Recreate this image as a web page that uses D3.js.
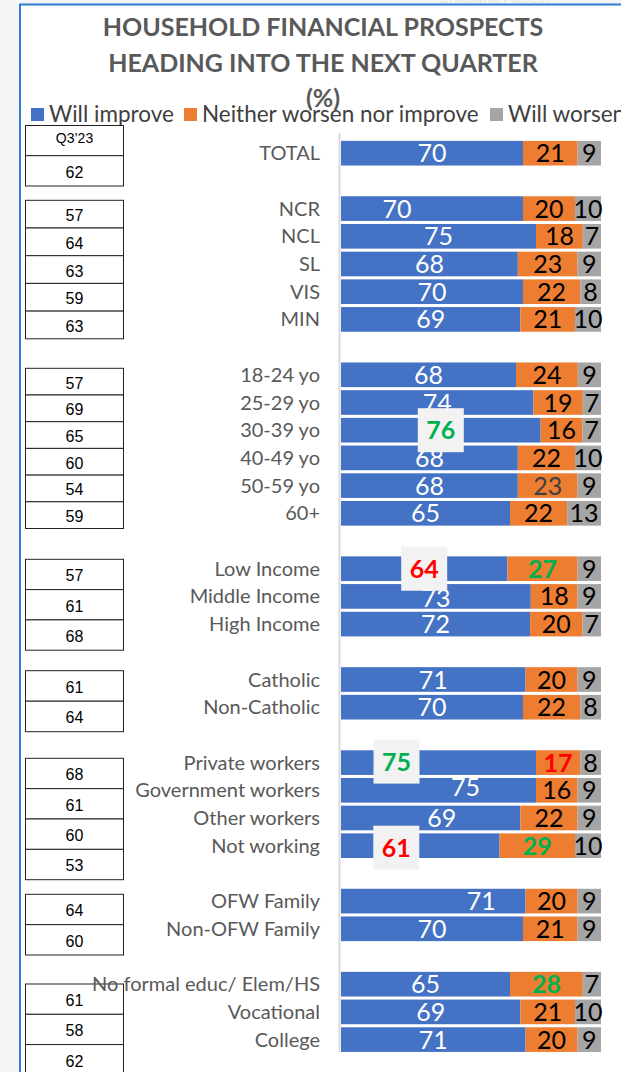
<!DOCTYPE html>
<meta charset="utf-8">
<script src="https://d3js.org/d3.v7.min.js"></script>
<style>
  body { margin: 0; background: #fff; }
  svg { display: block; }
</style>
<div id="viz"></div>
<script>

// ---- data ----
var categories = ["TOTAL",
  "NCR", "NCL", "SL", "VIS", "MIN",
  "18-24 yo", "25-29 yo", "30-39 yo", "40-49 yo", "50-59 yo", "60+",
  "Low Income", "Middle Income", "High Income",
  "Catholic", "Non-Catholic",
  "Private workers", "Government workers", "Other workers", "Not working",
  "OFW Family", "Non-OFW Family",
  "No formal educ/ Elem/HS", "Vocational", "College"];
var groupSizes = [1, 5, 6, 3, 2, 4, 2, 3];
var willImprove = [70, 70, 75, 68, 70, 69, 68, 74, 76, 68, 68, 65, 64, 73, 72, 71, 70, 75, 75, 69, 61, 71, 70, 65, 69, 71];
var neither     = [21, 20, 18, 23, 22, 21, 24, 19, 16, 22, 23, 22, 27, 18, 20, 20, 22, 17, 16, 22, 29, 20, 21, 28, 21, 20];
var willWorsen  = [9, 10, 7, 9, 8, 10, 9, 7, 7, 10, 9, 13, 9, 9, 7, 9, 8, 8, 9, 9, 10, 9, 9, 7, 10, 9];
var q3Values    = [62, 57, 64, 63, 59, 63, 57, 69, 65, 60, 54, 59, 57, 61, 68, 61, 64, 68, 61, 60, 53, 64, 60, 61, 58, 62];
var seriesNames = ["Will improve", "Neither worsen nor improve", "Will worsen"];
var q3Header = "Q3\u201923";

// ---- styling ----
var colors = ["#4472c4", "#ed7d31", "#a5a5a5"];
var green = "#00b050", red = "#ff0000";
var boxed = {"30-39 yo": green, "Low Income": red, "Private workers": green, "Not working": red};
var midColored = {"Low Income": green, "Private workers": red, "Not working": green, "No formal educ/ Elem/HS": green, "50-59 yo": "#404040"};
var nudge = {"NCR": [-35, 0], "Government workers": [27, -3], "Other workers": [11, 0],
  "OFW Family": [48, 0], "Private workers": [-42, -1], "Not working": [-24, 2], "Middle Income": [0, 2]};
var font = "Lato, 'Open Sans', sans-serif";

var width = 621, height = 1072;

var svg = d3.select("#viz").append("svg")
  .attr("width", width)
  .attr("height", height);

// faint page background + frame
svg.append("rect").attr("width", width).attr("height", height).attr("fill", "#f4f5f7");
svg.append("text").attr("x", 440).attr("y", 3).attr("font-family", font).attr("font-size", 16)
  .attr("fill", "#ebe6da").text("Enabling Access");
svg.append("rect").attr("x", 20).attr("y", 4).attr("width", width - 20).attr("height", height).attr("fill", "#fff");
svg.append("path").attr("d", "M20,1072V4.5H621").attr("fill", "none").attr("stroke", "#2e7bd6").attr("stroke-width", 2);

// title
var titleLines = ["HOUSEHOLD FINANCIAL PROSPECTS", "HEADING INTO THE NEXT QUARTER", "(%)"];
svg.append("g").selectAll("text")
  .data(titleLines)
  .join("text")
    .attr("x", 323)
    .attr("y", (d, i) => 36 + i * 35.5)
    .attr("text-anchor", "middle")
    .attr("font-family", font)
    .attr("font-weight", "bold")
    .attr("font-size", 25)
    .attr("fill", "#595959")
    .text(d => d);

// legend
var legendX = [31, 184, 490];
var legend = svg.append("g").selectAll("g")
  .data(seriesNames)
  .join("g")
    .attr("transform", (d, i) => "translate(" + legendX[i] + ",108)");
legend.append("rect").attr("width", 13).attr("height", 13).attr("fill", (d, i) => colors[i]);
legend.append("text")
  .attr("x", 18).attr("y", 13.5)
  .attr("font-family", font).attr("font-size", 22.5)
  .attr("fill", "#404040")
  .text(d => d);

// rows with a blank slot between groups
var rows = [];
var slot = 0, k = 0;
groupSizes.forEach(function (n) {
  for (var j = 0; j < n; j++) {
    var s = willImprove[k] + neither[k] + willWorsen[k];
    rows.push({
      name: categories[k], slot: slot,
      vals: [willImprove[k], neither[k], willWorsen[k]],
      improve: willImprove[k] / s * 100, neither: neither[k] / s * 100, worsen: willWorsen[k] / s * 100
    });
    slot++; k++;
  }
  slot++;
});
var nSlots = slot - 1;

var y = d3.scaleBand()
  .domain(d3.range(nSlots))
  .range([139.35, 139.35 + nSlots * 27.7])
  .paddingInner(0.11)
  .paddingOuter(0.055);

var x = d3.scaleLinear().domain([0, 100]).range([341, 601]);

// axis line
svg.append("line")
  .attr("x1", 339.5).attr("x2", 339.5)
  .attr("y1", 133).attr("y2", 1052)
  .attr("stroke", "#d9d9d9").attr("stroke-width", 2);

// category labels (the long education label is drawn last, over the table)
var longLabel = "No formal educ/ Elem/HS";
svg.append("g").selectAll("text")
  .data(rows.filter(d => d.name != longLabel))
  .join("text")
    .attr("x", 320)
    .attr("y", d => y(d.slot) + y.bandwidth() / 2)
    .attr("dy", "0.35em")
    .attr("text-anchor", "end")
    .attr("font-family", font).attr("font-size", 20)
    .attr("fill", "#595959")
    .text(d => d.name);

// stacked bars
var keys = ["improve", "neither", "worsen"];
var stacked = d3.stack().keys(keys)(rows);

var layers = svg.append("g").selectAll("g")
  .data(stacked)
  .join("g")
    .attr("fill", (d, i) => colors[i]);
layers.selectAll("rect")
  .data(d => d)
  .join("rect")
    .attr("x", d => x(d[0]))
    .attr("y", d => y(d.data.slot))
    .attr("width", d => x(d[1]) - x(d[0]))
    .attr("height", y.bandwidth());

// value labels
var labels = svg.append("g");
stacked.forEach(function (layer, li) {
  labels.selectAll(".lab" + li)
    .data(layer)
    .join("text")
      .attr("class", "lab" + li)
      .attr("x", function (d) {
        var n = li == 0 && nudge[d.data.name] ? nudge[d.data.name][0] : 0;
        return x((d[0] + d[1]) / 2) + n;
      })
      .attr("y", function (d) {
        var n = li == 0 && nudge[d.data.name] ? nudge[d.data.name][1] : 0;
        return y(d.data.slot) + y.bandwidth() / 2 + n;
      })
      .attr("dy", "0.36em")
      .attr("text-anchor", "middle")
      .attr("font-family", font).attr("font-size", 25)
      .attr("font-weight", d => li == 1 && midColored[d.data.name] && d.data.name != "50-59 yo" ? "bold" : "normal")
      .attr("fill", function (d) {
        if (li == 0) return "#fff";
        if (li == 1 && midColored[d.data.name]) return midColored[d.data.name];
        return "#000";
      })
      .text(d => d.data.vals[li]);
});

// highlighted improve values in grey boxes
var hl = rows.filter(d => boxed[d.name]);
var hlg = svg.append("g").selectAll("g")
  .data(hl)
  .join("g")
    .attr("transform", function (d) {
      var n = nudge[d.name] || [0, 0];
      var cx = x(d.improve / 2) + n[0];
      var cy = y(d.slot) + y.bandwidth() / 2 + n[1];
      return "translate(" + cx + "," + cy + ")";
    });
hlg.append("rect")
  .attr("x", -23).attr("y", -22)
  .attr("width", 46).attr("height", 44)
  .attr("fill", "#f2f2f2");
hlg.append("text")
  .attr("text-anchor", "middle")
  .attr("dy", "0.36em")
  .attr("font-family", font).attr("font-size", 25).attr("font-weight", "bold")
  .attr("fill", d => boxed[d.name])
  .text(d => d.vals[0]);

// Q3'23 comparison table
var tableTops = [155.7, 200.3, 368.3, 559.3, 670.7, 758.3, 894.3, 984];
var tableRowH = [30.3, 27.7, 26.7, 30.3, 30.5, 30.35, 30.35, 30.3];
var cells = [];
k = 0;
groupSizes.forEach(function (n, g) {
  for (var j = 0; j < n; j++) {
    cells.push({v: q3Values[k], top: tableTops[g] + j * tableRowH[g], h: tableRowH[g]});
    k++;
  }
});

var table = svg.append("g");
table.append("rect")
  .attr("x", 25.5).attr("y", 125.5).attr("width", 98).attr("height", 30.2)
  .attr("fill", "#fff").attr("stroke", "#222");
table.append("text")
  .attr("x", 74.5).attr("y", 142.5)
  .attr("text-anchor", "middle")
  .attr("font-family", "'Liberation Sans', Arial, sans-serif").attr("font-size", 14)
  .text(q3Header);

var cell = table.selectAll("g")
  .data(cells)
  .join("g");
cell.append("rect")
  .attr("x", 25.5).attr("y", d => d.top)
  .attr("width", 98).attr("height", d => d.h)
  .attr("fill", "#fff").attr("stroke", "#222");
cell.append("text")
  .attr("x", 74.5).attr("y", d => d.top + d.h / 2 + 1.2)
  .attr("dy", "0.36em")
  .attr("text-anchor", "middle")
  .attr("font-family", "'Liberation Sans', Arial, sans-serif").attr("font-size", 16)
  .text(d => d.v);

// long label sits over the table in the original
var longRow = rows.find(d => d.name == longLabel);
svg.append("text")
  .attr("x", 320)
  .attr("y", y(longRow.slot) + y.bandwidth() / 2)
  .attr("dy", "0.35em")
  .attr("text-anchor", "end")
  .attr("font-family", font).attr("font-size", 20)
  .attr("fill", "#595959")
  .text(longRow.name);

</script>
